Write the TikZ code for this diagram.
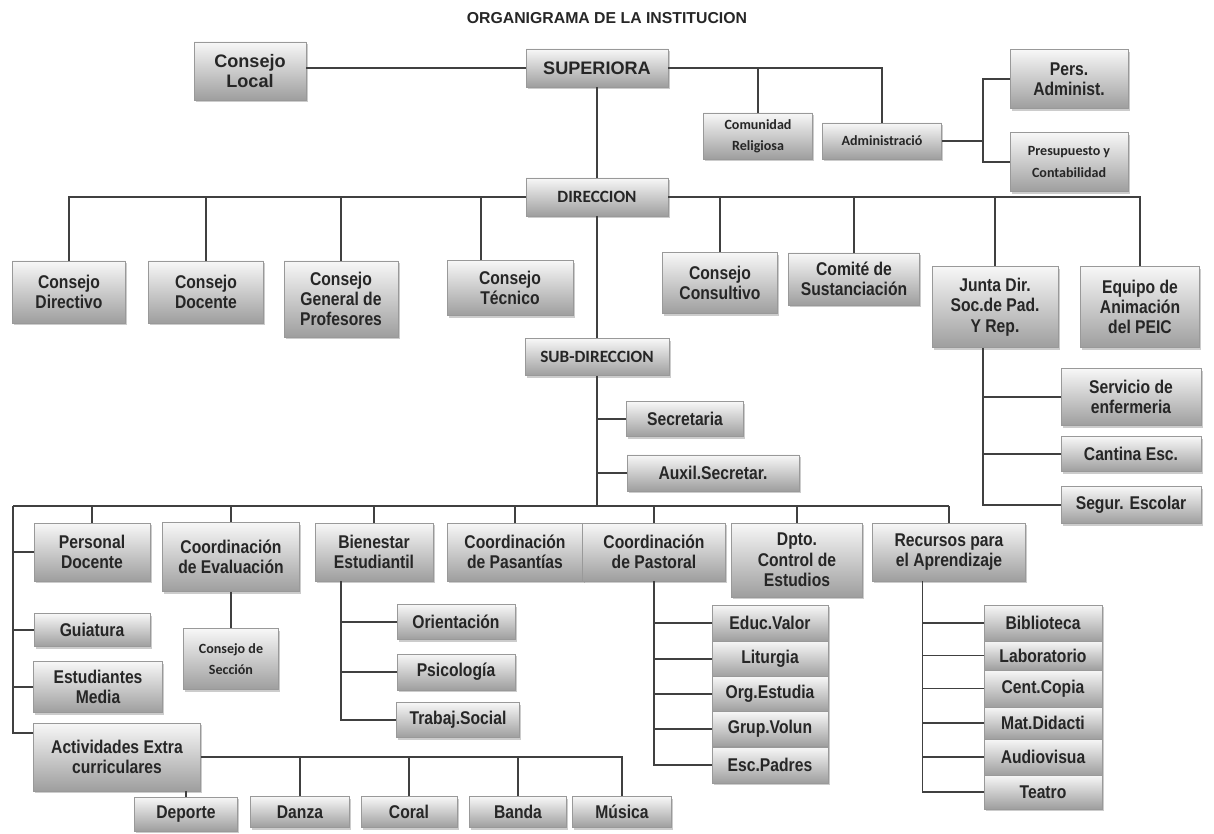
\documentclass[tikz,border=0pt]{standalone}
\usepackage{fontspec}
\setmainfont{Liberation Sans}
\newfontfamily\narrowfont[FakeStretch=0.85]{Liberation Sans}
\newfontfamily\calfont{Carlito}
\usetikzlibrary{shadows}

\begin{document}
\begin{tikzpicture}[
    x=0.02cm, y=-0.02cm,
    box/.style={rectangle, draw=black!40, top color=black!3, bottom color=black!38,
        drop shadow={shadow xshift=1pt, shadow yshift=-1.2pt, opacity=0.4},
        align=center, inner sep=1pt, text=black!85,
        font=\narrowfont\bfseries\fontsize{10.5}{11.6}\selectfont},
    wide/.style={font=\rmfamily\bfseries\fontsize{10.3}{11.4}\selectfont},
    cal/.style={font=\calfont\bfseries\fontsize{9.8}{12}\selectfont},
    calsm/.style={font=\calfont\bfseries\fontsize{8}{12}\selectfont},
    wh/.style 2 args={minimum width=#1*0.02cm, minimum height=#2*0.02cm},
    line/.style={draw=black!75, line width=0.8pt}
]
    \fill[white] (0,0) rectangle (1214,834);
    \useasboundingbox (0,0) rectangle (1214,834);

    \node[text=black!85, font=\rmfamily\bfseries\fontsize{9}{10}\selectfont] (title) at (607,18) {ORGANIGRAMA DE LA INSTITUCION};

    % Top level
    \node[box, wide, wh={112}{58}] (conlocal) at (250,71) {Consejo\\Local};
    \node[box, wide, wh={142}{38}] (superiora) at (597,68) {SUPERIORA};
    \node[box, calsm, wh={109}{46}] (comunidad) at (758,136) {Comunidad\\Religiosa};
    \node[box, calsm, wh={119}{36}] (admin) at (882,141) {Administració};
    \node[box, wh={118}{59}] (persadm) at (1069,79) {Pers.\\Administ.};
    \node[box, calsm, wh={118}{59}] (presup) at (1069,162) {Presupuesto y\\Contabilidad};

    % Direccion and councils
    \node[box, cal, wh={142}{38}] (direccion) at (597,197) {DIRECCION};
    \node[box, wh={113}{62}] (cdirectivo) at (69,292) {Consejo\\Directivo};
    \node[box, wh={115}{62}] (cdocente) at (206,292) {Consejo\\Docente};
    \node[box, wh={114}{76}] (cgeneral) at (341,299) {Consejo\\General de\\Profesores};
    \node[box, wh={126}{55}] (ctecnico) at (510,288) {Consejo\\Técnico};
    \node[box, wh={115}{61}] (cconsultivo) at (720,283) {Consejo\\Consultivo};
    \node[box, wh={131}{52}] (comite) at (854,279) {Comité de\\Sustanciación};
    \node[box, wh={126}{81}] (junta) at (995,307) {Junta Dir.\\Soc.de Pad.\\Y Rep.};
    \node[box, wh={119}{81}] (equipo) at (1140,307) {Equipo de\\Animación\\del PEIC};

    % Sub-direccion
    \node[box, cal, wh={144}{37}] (subdir) at (597,357) {SUB-DIRECCION};
    \node[box, wh={117}{35}] (secretaria) at (685,419) {Secretaria};
    \node[box, wh={172}{36}] (auxil) at (713,473) {Auxil.Secretar.};
    \node[box, wh={140}{57}] (servicio) at (1131,397) {Servicio de\\enfermeria};
    \node[box, wh={140}{35}] (cantina) at (1131,454) {Cantina Esc.};
    \node[box, wh={140}{37}] (segur) at (1131,505) {Segur. Escolar};

    % Lower row
    \node[box, wh={116}{58}] (personal) at (92,552) {Personal\\Docente};
    \node[box, wh={137}{69}] (ceval) at (231,557) {Coordinación\\de Evaluación};
    \node[box, wh={118}{58}] (bienestar) at (374,552) {Bienestar\\Estudiantil};
    \node[box, wh={136}{58}] (pasantias) at (515,552) {Coordinación\\de Pasantías};
    \node[box, wh={143}{58}] (pastoral) at (654,552) {Coordinación\\de Pastoral};
    \node[box, wh={131}{74}] (dpto) at (797,560) {Dpto.\\Control de\\Estudios};
    \node[box, wh={153}{58}] (recursos) at (949,552) {Recursos para\\el Aprendizaje};

    \node[box, calsm, wh={95}{61}] (seccion) at (231,659) {Consejo de\\Sección};
    \node[box, wh={116}{33}] (guiatura) at (92,630) {Guiatura};
    \node[box, wh={129}{51}] (estudiantes) at (98,687) {Estudiantes\\Media};
    \node[box, wh={167}{68}] (actividades) at (117,757) {Actividades Extra\\curriculares};
    \node[box, wh={118}{35}] (orientacion) at (456,622) {Orientación};
    \node[box, wh={118}{36}] (psicologia) at (456,672) {Psicología};
    \node[box, wh={123}{35}] (trabajo) at (458,720) {Trabaj.Social};

    \node[box, wh={116}{36}] (educ) at (770,623) {Educ.Valor};
    \node[box, wh={116}{36}] (liturgia) at (770,659) {Liturgia};
    \node[box, wh={116}{35}] (orgest) at (770,694) {Org.Estudia};
    \node[box, wh={116}{35}] (grupvol) at (770,729) {Grup.Volun};
    \node[box, wh={116}{36}] (escpadres) at (770,765) {Esc.Padres};

    \node[box, wh={118}{36}] (biblioteca) at (1043,623) {Biblioteca};
    \node[box, wh={118}{29}] (laboratorio) at (1043,655.5) {Laboratorio};
    \node[box, wh={118}{37}] (centcopia) at (1043,688.5) {Cent.Copia};
    \node[box, wh={118}{32}] (matdid) at (1043,723) {Mat.Didacti};
    \node[box, wh={118}{36}] (audio) at (1043,757) {Audiovisua};
    \node[box, wh={118}{34}] (teatro) at (1043,792) {Teatro};

    \node[box, wh={103}{34}] (deporte) at (186,814) {Deporte};
    \node[box, wh={99}{31}] (danza) at (300,812) {Danza};
    \node[box, wh={96}{31}] (coral) at (409,812) {Coral};
    \node[box, wh={97}{31}] (banda) at (518,812) {Banda};
    \node[box, wh={99}{31}] (musica) at (622,812) {Música};

    % Lines
    \draw[line] (conlocal.east |- superiora.west) -- (superiora.west);
    \draw[line] (superiora.east) -| (admin.north);
    \draw[line] (comunidad.north) -- (comunidad.north |- superiora.east);
    \draw[line] (admin.east) -- ++(41,0) coordinate (admfork);
    \draw[line] (persadm.west) -| (admfork) |- (presup.west);
    \draw[line] (superiora) -- (direccion);

    \coordinate (tec) at ([xshift=-0.58cm]ctecnico.north);
    \draw[line] (cdirectivo.north) |- (direccion.west);
    \draw[line] (equipo.north) |- (direccion.east);
    \foreach \n in {cdocente, cgeneral, cconsultivo, comite, junta}
        \draw[line] (\n.north) -- (\n.north |- direccion.west);
    \draw[line] (tec) -- (tec |- direccion.west);

    \draw[line] (direccion) -- (subdir);
    \coordinate (busL) at (13,506);
    \draw[line] (busL) -- (busL -| recursos.north);
    \draw[line] (subdir.south) -- (subdir.south |- busL);
    \draw[line] (subdir.south |- secretaria.west) -- (secretaria.west);
    \draw[line] (subdir.south |- auxil.west) -- (auxil.west);
    \foreach \n in {personal, ceval, bienestar, pasantias, pastoral, dpto, recursos}
        \draw[line] (\n.north) -- (\n.north |- busL);
    \draw[line] (busL) |- ([yshift=0.48cm]actividades.west);
    \foreach \n in {personal, guiatura, estudiantes}
        \draw[line] (busL |- \n.west) -- (\n.west);

    \coordinate (juntafork) at ([xshift=-0.24cm]junta.south);
    \draw[line] (juntafork) |- (segur.west);
    \foreach \n in {servicio, cantina}
        \draw[line] (juntafork |- \n.west) -- (\n.west);

    \draw[line] (ceval) -- (seccion);

    \coordinate (bienfork) at ([xshift=-0.66cm]bienestar.south);
    \draw[line] (bienfork) |- (trabajo.west);
    \foreach \n in {orientacion, psicologia}
        \draw[line] (bienfork |- \n.west) -- (\n.west);

    \draw[line] (pastoral.south) |- (escpadres.west);
    \foreach \n in {educ, liturgia, orgest, grupvol}
        \draw[line] (pastoral.south |- \n.west) -- (\n.west);

    \coordinate (recfork) at ([xshift=-0.53cm]recursos.south);
    \draw[line] (recfork) |- (teatro.west);
    \foreach \n in {biblioteca, laboratorio, centcopia, matdid, audio}
        \draw[line] (recfork |- \n.west) -- (\n.west);

    \draw[line] (actividades.east) -| (musica.north);
    \foreach \n in {danza, coral, banda}
        \draw[line] (\n.north) -- (\n.north |- actividades.east);
    \draw[line] (deporte.north) -- (deporte.north |- actividades.south);
\end{tikzpicture}
\end{document}
